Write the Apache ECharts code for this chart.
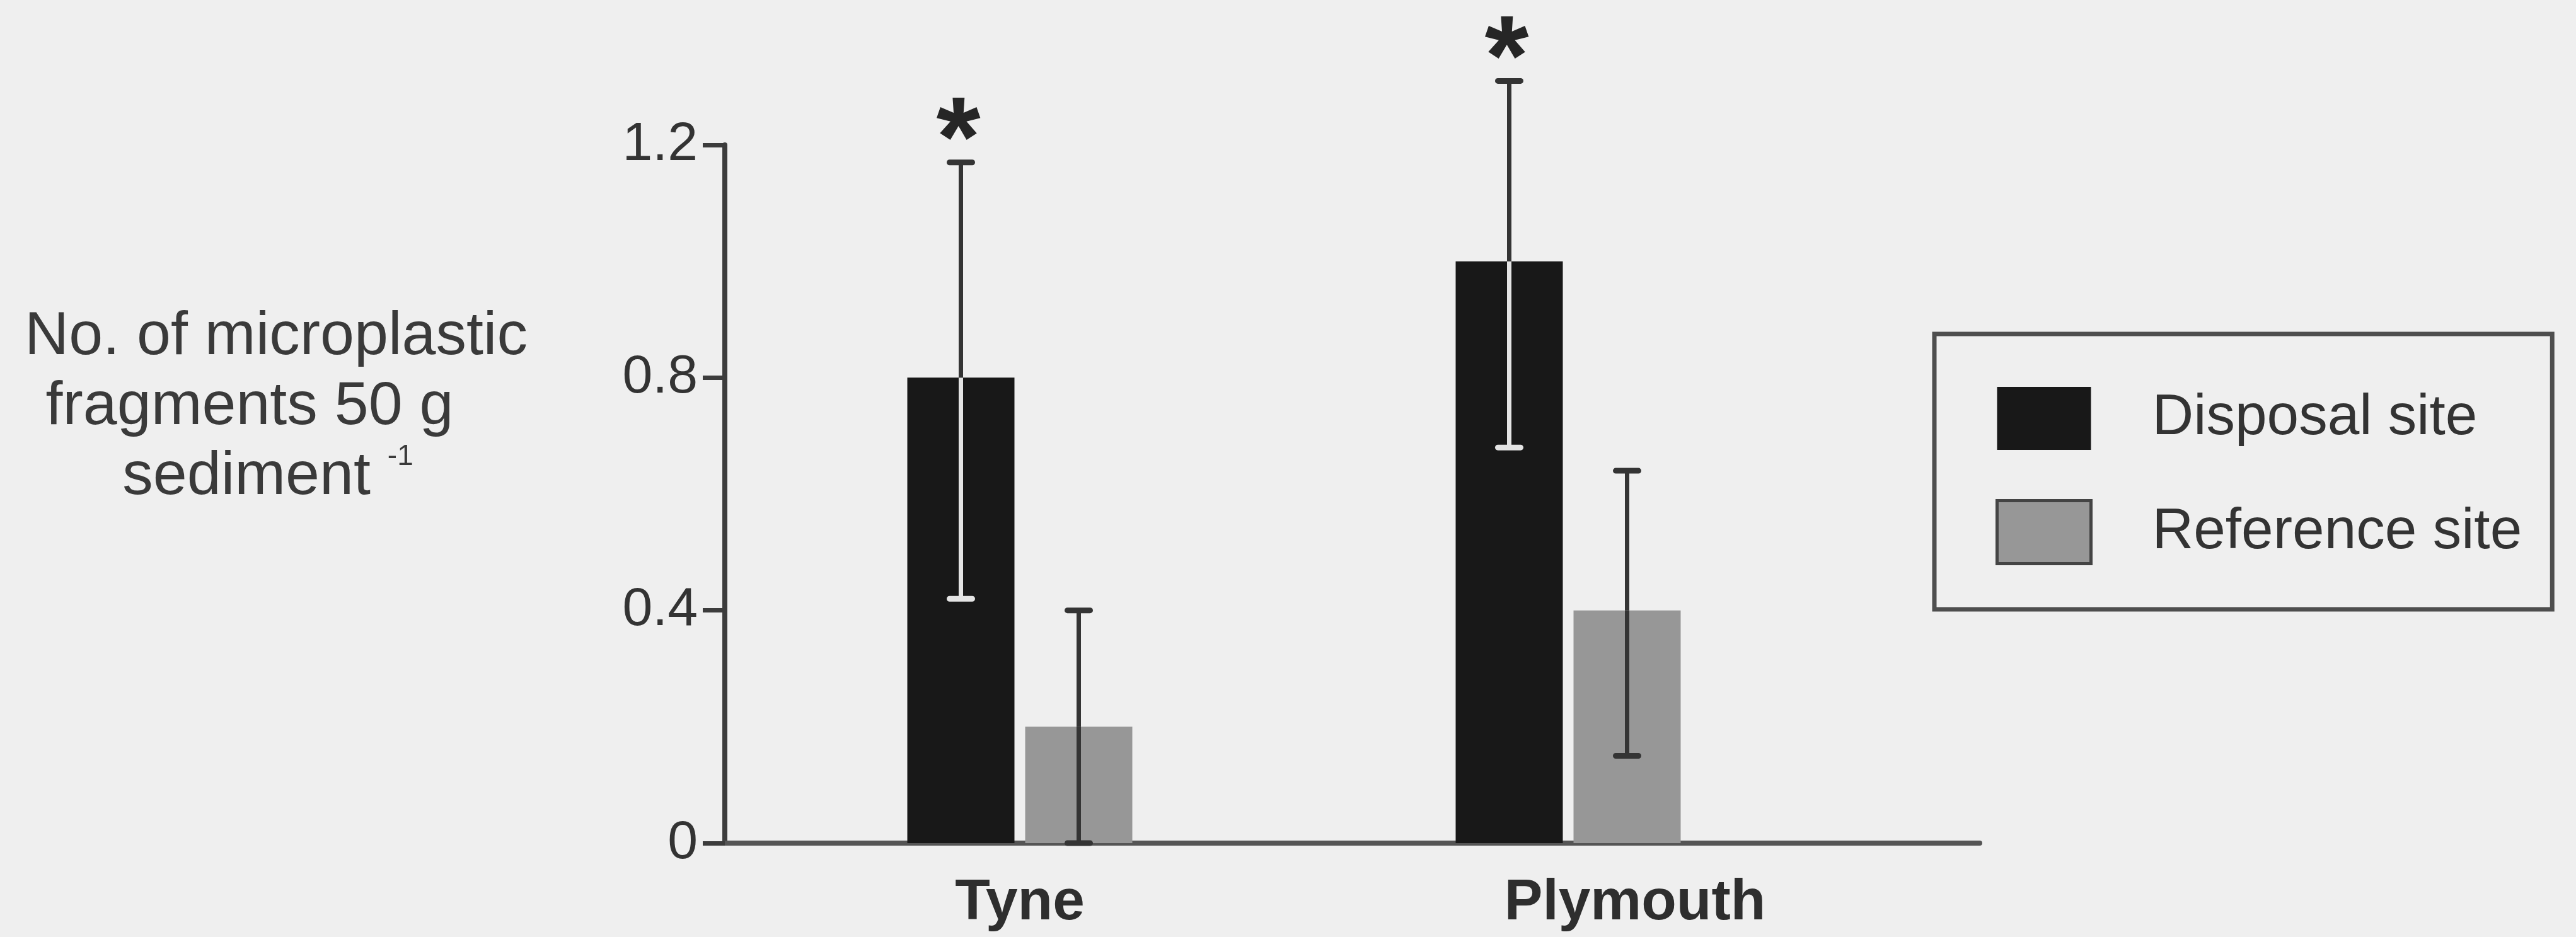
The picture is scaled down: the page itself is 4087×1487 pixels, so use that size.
<!DOCTYPE html>
<html><head><meta charset="utf-8">
<script src="https://cdn.jsdelivr.net/npm/echarts@6/dist/echarts.min.js"></script>
<style>html,body{margin:0;padding:0;background:#efefef;}#chart{width:4087px;height:1487px;}</style>
</head><body><div id="chart"></div>
<script>
// ---- data ----
const categories = ['Tyne', 'Plymouth'];
const seriesNames = ['Disposal site', 'Reference site'];
const disposalMean = [0.8, 1.0];
const disposalLow = [0.42, 0.68];
const disposalHigh = [1.17, 1.31];
const referenceMean = [0.2, 0.4];
const referenceLow = [0, 0.15];
const referenceHigh = [0.4, 0.64];
const disposalSignificant = [true, true];
const yMin = 0, yMax = 1.2, yStep = 0.4;

// ---- style ----
const FONT = 'Liberation Sans, Arial, sans-serif';
const BAR_W = 170, BAR_GAP = 17;
const DARK = '#343434';

function errRender(sign, innerColor) {
  return function (params, api) {
    const i = api.value(0);
    const base = api.coord([i, 0]);
    const x = base[0] + sign * (BAR_W + BAR_GAP) / 2;
    const yLow = api.coord([i, api.value(1)])[1];
    const yHigh = api.coord([i, api.value(2)])[1];
    const yMean = api.coord([i, api.value(3)])[1];
    const cap = 36;
    const kids = [
      { type: 'line', shape: { x1: x, y1: yLow, x2: x, y2: yMean }, style: { stroke: innerColor, lineWidth: 7 } },
      { type: 'line', shape: { x1: x, y1: yMean, x2: x, y2: yHigh }, style: { stroke: DARK, lineWidth: 7 } },
      { type: 'line', shape: { x1: x - cap / 2, y1: yHigh, x2: x + cap / 2, y2: yHigh }, style: { stroke: DARK, lineWidth: 9, lineCap: 'round' } },
      { type: 'line', shape: { x1: x - cap / 2, y1: yLow, x2: x + cap / 2, y2: yLow }, style: { stroke: innerColor, lineWidth: 9, lineCap: 'round' } }
    ];
    if (api.value(4)) {
      kids.push({ type: 'text', x: x - 4, y: yHigh - 28,
        style: { text: '*', fontSize: 180, fontWeight: 'bold', fontFamily: FONT, fill: '#262626', align: 'center', verticalAlign: 'middle' } });
    }
    return { type: 'group', children: kids };
  };
}

const TITLE_TXT = { fontSize: 97, fontWeight: 'normal', fontFamily: FONT, color: '#3a3a3a', lineHeight: 111 };

const chart = echarts.init(document.getElementById('chart'));
chart.setOption({
  backgroundColor: '#efefef',
  animation: false,
  title: {
    text: '{a|No. of microplastic}\n{b|fragments 50 g}\n{c|sediment }{s|-1}',
    left: 438, top: 480, textAlign: 'center', padding: 0,
    textStyle: {
      fontWeight: 'normal',
      rich: {
        a: Object.assign({}, TITLE_TXT),
        b: Object.assign({}, TITLE_TXT, { padding: [0, 84, 0, 0] }),
        c: Object.assign({}, TITLE_TXT, { padding: [0, 0, 0, 0] }),
        s: { fontSize: 46, fontWeight: 'normal', fontFamily: FONT, color: '#3a3a3a', lineHeight: 62, verticalAlign: 'top', padding: [0, 26, 0, 0] }
      }
    }
  },
  legend: {
    orient: 'vertical', left: 3069, top: 530,
    padding: [84, 48, 70, 97], itemWidth: 149, itemHeight: 100, itemGap: 78,
    borderColor: '#4e4e4e', borderWidth: 7, borderRadius: 0, icon: 'rect',
    textStyle: { fontSize: 91, fontFamily: FONT, color: '#333', padding: [0, 0, 0, 92] },
    data: [
      { name: seriesNames[0] },
      { name: seriesNames[1], itemStyle: { borderColor: '#444', borderWidth: 5 } }
    ]
  },
  grid: [
    { left: 1150, top: 230, width: 1991, height: 1108 },
    { left: 1183, top: 230, width: 1740, height: 1108 }
  ],
  xAxis: [
    { gridIndex: 0, type: 'value', min: 0, max: 1,
      axisLine: { show: true, lineStyle: { color: '#555', width: 8 } },
      axisTick: { show: false }, axisLabel: { show: false }, splitLine: { show: false } },
    { gridIndex: 1, type: 'category', data: categories,
      axisLine: { show: false }, axisTick: { show: false }, splitLine: { show: false },
      axisLabel: {
        interval: 0, margin: 50,
        formatter: function (v, i) { return i === 1 ? '{p|' + v + '}' : '{t|' + v + '}'; },
        rich: {
          t: { fontSize: 91, fontWeight: 'bold', fontFamily: FONT, color: '#2e2e2e' },
          p: { fontSize: 91, fontWeight: 'bold', fontFamily: FONT, color: '#2e2e2e', padding: [0, 0, 0, 212] }
        }
      } }
  ],
  yAxis: [
    { gridIndex: 0, type: 'value', min: yMin, max: yMax, interval: yStep,
      axisLine: { show: true, lineStyle: { color: '#3c3c3c', width: 8 } },
      axisTick: { show: true, length: 35, lineStyle: { color: '#3c3c3c', width: 7 } },
      axisLabel: { fontSize: 86, fontFamily: FONT, color: '#333', margin: 43,
        formatter: function (v) { return v === 0 ? '0' : v.toFixed(1); } },
      splitLine: { show: false } },
    { gridIndex: 1, type: 'value', min: yMin, max: yMax, interval: yStep, show: false, splitLine: { show: false } }
  ],
  series: [
    { name: seriesNames[0], type: 'bar', xAxisIndex: 1, yAxisIndex: 1, data: disposalMean,
      barWidth: BAR_W, barGap: '10%', itemStyle: { color: '#181818' } },
    { name: seriesNames[1], type: 'bar', xAxisIndex: 1, yAxisIndex: 1, data: referenceMean,
      barWidth: BAR_W, barGap: '10%', itemStyle: { color: '#979797' } },
    { type: 'custom', xAxisIndex: 1, yAxisIndex: 1, z: 5,
      renderItem: errRender(-1, '#e4e4e4'),
      encode: { x: 0, y: [1, 2] },
      data: categories.map((c, i) => [i, disposalLow[i], disposalHigh[i], disposalMean[i], disposalSignificant[i] ? 1 : 0]) },
    { type: 'custom', xAxisIndex: 1, yAxisIndex: 1, z: 5,
      renderItem: errRender(1, DARK),
      encode: { x: 0, y: [1, 2] },
      data: categories.map((c, i) => [i, referenceLow[i], referenceHigh[i], referenceMean[i], 0]) }
  ]
});
</script></body></html>
